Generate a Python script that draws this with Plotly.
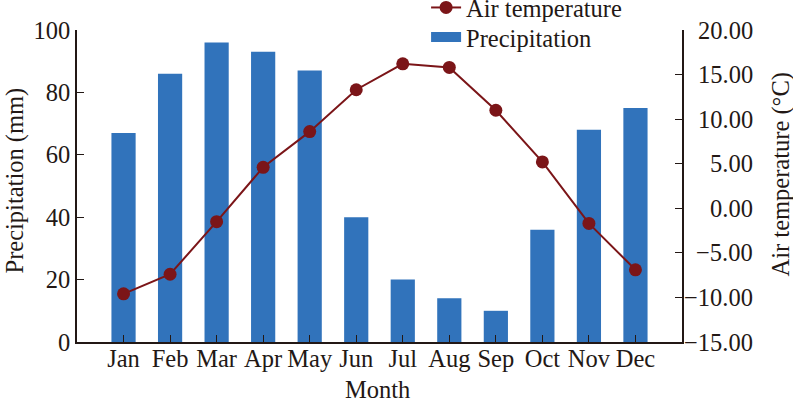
import plotly.graph_objects as go

months = ["Jan", "Feb", "Mar", "Apr", "May", "Jun", "Jul", "Aug", "Sep", "Oct", "Nov", "Dec"]
precipitation = [67, 86, 96, 93, 87, 40, 20, 14, 10, 36, 68, 75]
air_temperature = [-9.6, -7.4, -1.5, 4.6, 8.6, 13.3, 16.2, 15.8, 11.0, 5.2, -1.7, -6.9]
temp_ticks = [-15, -10, -5, 0, 5, 10, 15, 20]
temp_tick_labels = ["\u221215.00", "\u221210.00", "\u22125.00", "0.00", "5.00", "10.00", "15.00", "20.00"]

FONT = "Liberation Serif"
BAR = "#3173BB"
LINE = "#7B1518"
INK = "#231815"
TICK_SIZE = 24.5
TITLE_SIZE = 24.5
LEG_SIZE = 24.5

fig = go.Figure()
fig.add_trace(go.Scatter(
    x=months, y=air_temperature, name="Air temperature", yaxis="y2",
    mode="lines+markers",
    line=dict(color=LINE, width=2),
    marker=dict(color=LINE, size=13),
    legend="legend",
))
fig.add_trace(go.Bar(
    x=months, y=precipitation, name="Precipitation", yaxis="y",
    marker=dict(color=BAR, line=dict(width=0)), width=0.52,
    showlegend=False,
))
# legend swatch for the bars (wide rectangle as in the reference)
fig.add_trace(go.Scatter(
    x=[None], y=[None], name="Precipitation", yaxis="y",
    mode="lines", line=dict(color=BAR, width=14),
    legend="legend2",
))

leg_common = dict(xanchor="left", yanchor="middle", bgcolor="rgba(0,0,0,0)",
                  font=dict(size=LEG_SIZE, family=FONT, color=INK), itemwidth=30)

annotations = [
    dict(text="Month", xref="paper", yref="paper", x=0.4967, y=-0.152,
         xanchor="center", yanchor="middle", showarrow=False,
         font=dict(size=TITLE_SIZE)),
    dict(text="Precipitation (mm)", xref="paper", yref="paper", x=-0.1025, y=0.5176,
         xanchor="center", yanchor="middle", textangle=-90, showarrow=False,
         font=dict(size=TITLE_SIZE)),
    dict(text="Air temperature (°C)", xref="paper", yref="paper", x=1.1636, y=0.537,
         xanchor="center", yanchor="middle", textangle=-90, showarrow=False,
         font=dict(size=TITLE_SIZE)),
]
for v, lab in zip(temp_ticks, temp_tick_labels):
    annotations.append(dict(text=lab, xref="paper", yref="y2", x=1.1207, y=v,
                            xanchor="right", yanchor="middle", showarrow=False,
                            font=dict(size=TICK_SIZE)))

fig.update_layout(
    width=793, height=398,
    margin=dict(l=77, r=111, t=30, b=56, autoexpand=False),
    paper_bgcolor="white", plot_bgcolor="white",
    font=dict(family=FONT, size=TICK_SIZE, color=INK),
    showlegend=True,
    legend=dict(x=0.577, y=1.072, **leg_common),
    legend2=dict(x=0.577, y=0.977, **leg_common),
    annotations=annotations,
    xaxis=dict(
        type="category", range=[-1.0, 12.0],
        showline=True, linecolor=INK, linewidth=1.5,
        ticks="inside", ticklen=7, tickcolor=INK,
        showgrid=False, zeroline=False, automargin=False,
        ticklabelstandoff=-6,
    ),
    yaxis=dict(
        range=[0, 100], dtick=20,
        showline=True, linecolor=INK, linewidth=1.5,
        ticks="inside", ticklen=7, tickcolor=INK,
        showgrid=False, zeroline=False, automargin=False,
    ),
    yaxis2=dict(
        overlaying="y", side="right",
        range=[-15, 20], tickvals=temp_ticks, showticklabels=False,
        showline=True, linecolor=INK, linewidth=1.5,
        ticks="inside", ticklen=7, tickcolor=INK,
        showgrid=False, zeroline=False, automargin=False,
    ),
)

fig.write_html("out.html",
               config={"displayModeBar": False},
               post_script="document.body.style.margin='0';document.body.style.overflow='hidden';")
